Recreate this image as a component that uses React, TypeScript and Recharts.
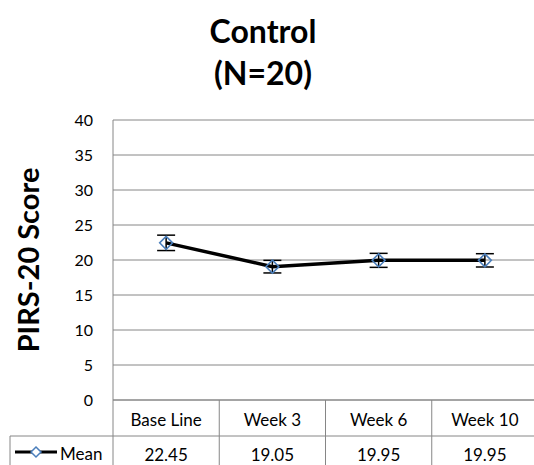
import React from 'react';
import {
  ComposedChart,
  Line,
  XAxis,
  YAxis,
  CartesianGrid,
  ErrorBar,
} from 'recharts';

const categories = ['Base Line', 'Week 3', 'Week 6', 'Week 10'];
const means = [22.45, 19.05, 19.95, 19.95];
const errors = [1.1, 0.9, 1.0, 0.95];
const yTicks = [0, 5, 10, 15, 20, 25, 30, 35, 40];
const seriesName = 'Mean';

const data = categories.map((c, i) => ({ name: c, mean: means[i], err: errors[i] }));

const FONT = 'Lato, "Open Sans", sans-serif';
const GRID = '#868686';
const BLUE = '#4a7ebb';
const CHART_W = 538;
const CHART_H = 465;
const PLOT_LEFT = 113;
const BAND = (CHART_W - PLOT_LEFT) / categories.length;

// recharts hands dots fill="#fff", so the inside colour comes in under its own name
function Diamond(props: any) {
  const { cx, cy, size = 6.5, inner = 'none' } = props;
  if (cx == null || cy == null) return null;
  const r = size;
  return (
    <path
      d={`M${cx},${cy - r} L${cx + r},${cy} L${cx},${cy + r} L${cx - r},${cy} Z`}
      fill={inner}
      stroke={BLUE}
      strokeWidth={1.5}
    />
  );
}

// data table under the plot, drawn through the x axis ticks
function TableTick(props: any) {
  const { x, y, payload, index } = props;
  const left = x - BAND / 2;
  const right = x + BAND / 2;
  return (
    <g>
      <line x1={left} y1={y} x2={left} y2={y + 70} stroke={GRID} strokeWidth={1} />
      <line x1={left} y1={y + 36} x2={right} y2={y + 36} stroke={GRID} strokeWidth={1} />
      <text x={x} y={y + 19} textAnchor="middle" dominantBaseline="central" fontSize={17} fontFamily={FONT} fill="#000">
        {payload.value}
      </text>
      <text x={x} y={y + 54} textAnchor="middle" dominantBaseline="central" fontSize={17} fontFamily={FONT} fill="#000">
        {means[index].toFixed(2)}
      </text>
      {index === 0 && (
        <g>
          <line x1={10} y1={y + 36} x2={left} y2={y + 36} stroke={GRID} strokeWidth={1} />
          <line x1={10} y1={y + 36} x2={10} y2={y + 70} stroke={GRID} strokeWidth={1} />
          <line x1={15} y1={y + 52} x2={57} y2={y + 52} stroke="#000" strokeWidth={3} />
          <Diamond cx={36} cy={y + 52} size={5} inner="#fff" />
          <text x={60} y={y + 53} textAnchor="start" dominantBaseline="central" fontSize={17} fontFamily={FONT} fill="#000">
            {seriesName}
          </text>
        </g>
      )}
    </g>
  );
}

export default function App() {
  return (
    <div style={{ position: 'absolute', left: 0, top: 0, width: 534, height: 465, overflow: 'hidden', background: '#fff' }}>
      <div
        style={{
          position: 'absolute',
          left: 0,
          top: 10,
          width: 526,
          textAlign: 'center',
          fontFamily: FONT,
          fontWeight: 700,
          fontSize: 32,
          lineHeight: '42px',
          color: '#000',
        }}
      >
        Control
        <br />
        (N=20)
      </div>
      <ComposedChart width={CHART_W} height={CHART_H} data={data} margin={{ top: 120, right: 0, bottom: 0, left: 0 }}>
        <CartesianGrid vertical={false} stroke={GRID} strokeWidth={1} />
        <XAxis
          dataKey="name"
          scale="band"
          height={65}
          axisLine={{ stroke: GRID }}
          tickLine={false}
          tickSize={0}
          tickMargin={0}
          interval={0}
          tick={<TableTick />}
        />
        <YAxis
          width={PLOT_LEFT}
          domain={[0, 40]}
          ticks={yTicks}
          axisLine={{ stroke: GRID }}
          tickLine={false}
          tickSize={6}
          tickMargin={14}
          tick={{ fill: '#000', fontSize: 16, fontFamily: FONT }}
          label={{
            value: 'PIRS-20 Score',
            angle: -90,
            position: 'insideLeft',
            offset: 29,
            style: { textAnchor: 'middle', fontSize: 29, fontWeight: 700, fill: '#000', fontFamily: FONT },
          }}
        />
        <Line
          dataKey="mean"
          stroke="#000"
          strokeWidth={3.5}
          dot={<Diamond size={6.5} />}
          activeDot={false}
          isAnimationActive={false}
        >
          <ErrorBar dataKey="err" width={9} stroke="#000" strokeWidth={1.5} direction="y" />
        </Line>
      </ComposedChart>
    </div>
  );
}
